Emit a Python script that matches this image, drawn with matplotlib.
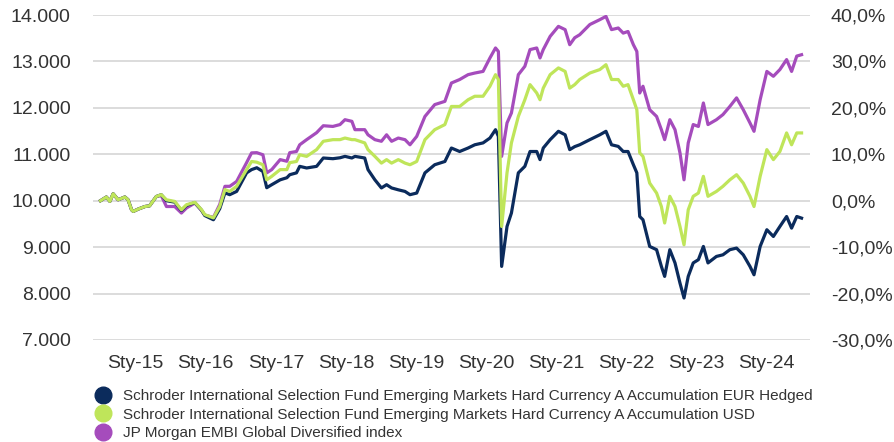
import pandas as pd
import numpy as np
import matplotlib
matplotlib.use("Agg")
import matplotlib.pyplot as plt
import matplotlib.dates as mdates
from matplotlib.lines import Line2D
from matplotlib.ticker import FuncFormatter, MultipleLocator

plt.rcParams['font.family'] = ['Liberation Sans', 'DejaVu Sans']

# values (growth of 10.000)
dates = [
    "2014-07-01", "2014-08-01", "2014-08-19", "2014-09-05", "2014-10-01",
    "2014-11-05", "2014-11-22", "2014-12-10", "2014-12-19", "2015-01-14",
    "2015-02-18", "2015-03-14", "2015-04-18", "2015-05-14", "2015-06-10",
    "2015-07-23", "2015-08-27", "2015-09-23", "2015-11-05", "2015-12-10",
    "2015-12-27", "2016-02-10", "2016-03-14", "2016-04-10", "2016-05-05",
    "2016-06-10", "2016-08-01", "2016-08-27", "2016-09-23", "2016-10-25",
    "2016-11-14", "2016-12-10", "2017-01-23", "2017-02-27", "2017-03-14",
    "2017-04-18", "2017-05-05", "2017-06-10", "2017-08-01", "2017-09-05",
    "2017-10-25", "2017-12-01", "2017-12-27", "2018-02-01", "2018-02-17",
    "2018-04-09", "2018-04-26", "2018-06-01", "2018-07-05", "2018-08-01",
    "2018-08-27", "2018-10-01", "2018-11-05", "2018-12-01", "2019-01-05",
    "2019-02-17", "2019-04-09", "2019-06-01", "2019-07-05", "2019-08-17",
    "2019-09-30", "2019-11-04", "2019-12-17", "2020-01-22", "2020-02-20",
    "2020-03-06", "2020-03-23", "2020-04-20", "2020-05-13", "2020-06-18",
    "2020-07-22", "2020-08-18", "2020-09-22", "2020-10-09", "2020-10-26",
    "2020-12-01", "2021-01-13", "2021-02-17", "2021-03-13", "2021-04-08",
    "2021-05-04", "2021-06-26", "2021-08-17", "2021-09-18", "2021-10-17",
    "2021-11-21", "2021-12-17", "2022-01-11", "2022-02-08", "2022-02-26",
    "2022-03-13", "2022-03-30", "2022-05-04", "2022-06-09", "2022-07-04",
    "2022-07-21", "2022-08-17", "2022-09-13", "2022-10-09", "2022-10-30",
    "2022-11-21", "2022-12-17", "2023-01-13", "2023-02-08", "2023-03-04",
    "2023-04-17", "2023-05-21", "2023-06-26", "2023-07-31", "2023-09-04",
    "2023-10-09", "2023-10-30", "2023-12-01", "2024-01-05", "2024-02-08",
    "2024-03-13", "2024-04-17", "2024-05-13", "2024-06-09", "2024-07-04",
]

eur_hedged = [
    10000, 10080, 9985, 10150, 10020, 10080, 10020, 9805, 9770, 9820,
    9875, 9890, 10090, 10130, 10000, 9970, 9790, 9900, 9960, 9795,
    9680, 9590, 9830, 10170, 10130, 10200, 10600, 10670, 10710, 10630,
    10280, 10345, 10450, 10495, 10560, 10600, 10740, 10705, 10740, 10920,
    10905, 10925, 10955, 10920, 10955, 10920, 10670, 10450, 10275, 10345,
    10275, 10235, 10200, 10130, 10165, 10600, 10775, 10845, 11135, 11060,
    11135, 11205, 11245, 11350, 11530, 11385, 8585, 9445, 9735, 10600,
    10740, 11060, 11060, 10885, 11135, 11315, 11495, 11420, 11100, 11165,
    11205, 11315, 11420, 11495, 11205, 11170, 11060, 11060, 10775, 10600,
    9660, 9590, 9015, 8945, 8585, 8370, 8945, 8660, 8225, 7905,
    8370, 8660, 8730, 9015, 8660, 8800, 8835, 8945, 8980, 8835,
    8585, 8405, 9015, 9375, 9230, 9445, 9660, 9410, 9660, 9625,
]

usd = [
    10000, 10080, 9985, 10150, 10020, 10080, 10020, 9805, 9770, 9820,
    9875, 9890, 10090, 10130, 10020, 9985, 9805, 9915, 9965, 9805,
    9700, 9630, 9875, 10240, 10200, 10310, 10670, 10845, 10830, 10775,
    10450, 10525, 10670, 10670, 10820, 10845, 10990, 10955, 11100, 11280,
    11315, 11315, 11350, 11315, 11315, 11245, 11100, 10955, 10810, 10885,
    10810, 10885, 10810, 10775, 10845, 11315, 11530, 11640, 12030, 12030,
    12175, 12250, 12250, 12465, 12715, 12610, 9445, 10600, 11245, 11815,
    12175, 12500, 12320, 12175, 12425, 12715, 12860, 12785, 12425, 12500,
    12610, 12750, 12825, 12930, 12610, 12610, 12465, 12500, 12175, 11960,
    11030, 10955, 10380, 10165, 9875, 9520, 10095, 9875, 9445, 9050,
    9805, 10095, 10165, 10525, 10095, 10200, 10310, 10450, 10560, 10380,
    10095, 9875, 10525, 11100, 10885, 11060, 11460, 11205, 11460, 11460,
]

embi = [
    10000, 10080, 9985, 10150, 10020, 10080, 10020, 9805, 9770, 9820,
    9875, 9890, 10090, 10110, 9875, 9875, 9735, 9845, 9950, 9790,
    9690, 9640, 9920, 10310, 10310, 10415, 10820, 11030, 11035, 10990,
    10600, 10670, 10885, 10850, 11035, 11060, 11205, 11315, 11465, 11615,
    11600, 11640, 11745, 11710, 11530, 11530, 11420, 11315, 11280, 11420,
    11280, 11350, 11315, 11205, 11385, 11815, 12070, 12140, 12535, 12610,
    12715, 12750, 12785, 13075, 13290, 13215, 10955, 11675, 11890, 12715,
    12895, 13255, 13290, 13075, 13255, 13540, 13755, 13685, 13360, 13510,
    13575, 13795, 13900, 13970, 13685, 13720, 13610, 13645, 13360, 13215,
    12320, 12465, 11960, 11815, 11530, 11315, 11745, 11530, 11030, 10450,
    11245, 11640, 11600, 12105, 11640, 11745, 11855, 12030, 12215, 11960,
    11675, 11495, 12175, 12785, 12680, 12825, 13040, 12785, 13115, 13145,
]

labels = [
    "Schroder International Selection Fund Emerging Markets Hard Currency A Accumulation EUR Hedged",
    "Schroder International Selection Fund Emerging Markets Hard Currency A Accumulation USD",
    "JP Morgan EMBI Global Diversified index",
]
colors = ["#0b2b5c", "#bfe55a", "#a54cbc"]
text_color = "#333333"

x = pd.to_datetime(dates)

fig = plt.figure(figsize=(8.95, 4.42), dpi=100)
ax = fig.add_axes([93 / 895, 1 - 340 / 442, 717 / 895, 325 / 442])

# purple underneath, green on top (as in the original)
ax.plot(x, embi, color=colors[2], lw=2.3, zorder=3, solid_joinstyle='round')
ax.plot(x, eur_hedged, color=colors[0], lw=2.3, zorder=4, solid_joinstyle='round')
ax.plot(x, usd, color=colors[1], lw=2.3, zorder=5, solid_joinstyle='round')

ax.set_ylim(7000, 14000)
ax.set_xlim(pd.Timestamp("2014-05-23"), pd.Timestamp("2024-08-17"))
ax.yaxis.set_major_locator(MultipleLocator(1000))
ax.yaxis.set_major_formatter(FuncFormatter(lambda v, p: f"{int(v):,}".replace(",", ".")))
ax.xaxis.set_major_locator(mdates.YearLocator(1, month=1, day=1))
ax.xaxis.set_major_formatter(FuncFormatter(lambda v, p: "Sty-" + mdates.num2date(v).strftime("%y")))

ax.grid(axis='y', color="#d9d9d9", lw=1.3)
ax.set_axisbelow(True)
for s in ax.spines.values():
    s.set_visible(False)
ax.tick_params(axis='both', length=0, labelsize=14, colors=text_color)
ax.tick_params(axis='y', pad=16)
ax.tick_params(axis='x', pad=11)

ax2 = ax.twinx()
ax2.set_ylim(-30, 40)
ax2.yaxis.set_major_locator(MultipleLocator(10))
ax2.yaxis.set_major_formatter(FuncFormatter(lambda v, p: f"{v:.1f}%".replace(".", ",")))
for s in ax2.spines.values():
    s.set_visible(False)
ax2.tick_params(axis='y', length=0, labelsize=14, colors=text_color, pad=15)

handles = [Line2D([], [], ls='none', marker='o', markersize=12, color=c) for c in colors]
fig.legend(handles, labels, loc='upper left', bbox_to_anchor=(95 / 895, 1 - 389 / 442),
           frameon=False, fontsize=11.0, labelcolor=text_color, handlelength=1.0,
           handletextpad=0.85, labelspacing=0.3, borderpad=0, borderaxespad=0)

fig.savefig("out.png", dpi=100)
